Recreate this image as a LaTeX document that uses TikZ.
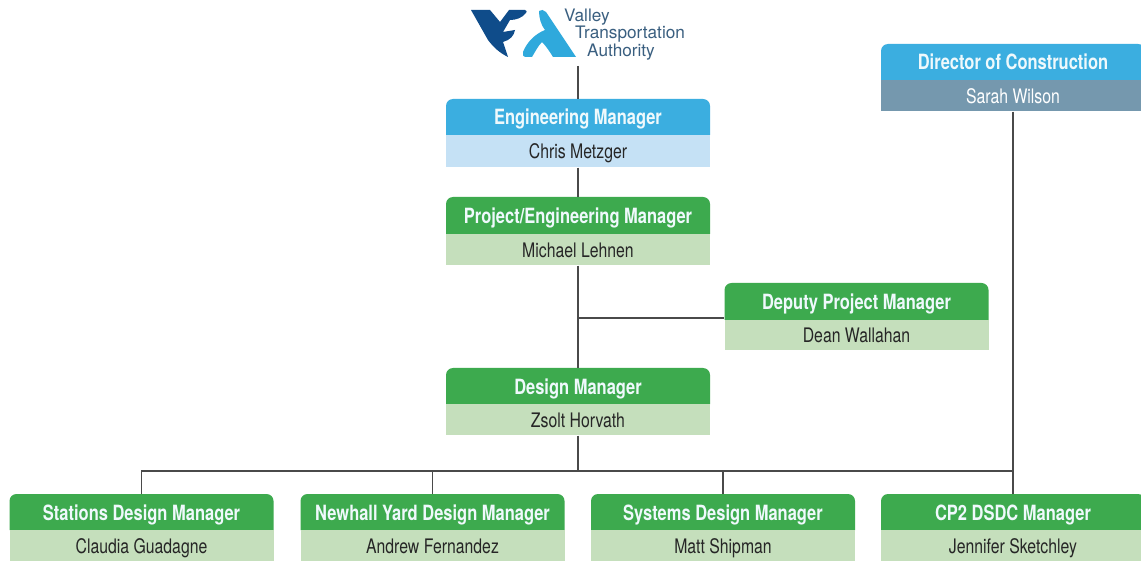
\documentclass[tikz,border=0pt]{standalone}
\usepackage{fontspec}
\setmainfont{TeX Gyre Heros}
\newfontface\narrowreg{TeX Gyre Heros}[FakeStretch=0.79]
\newfontface\narrowbold{TeX Gyre Heros Bold}[FakeStretch=0.785]
\definecolor{skyhead}{HTML}{3BAEE0}
\definecolor{skybody}{HTML}{C5E1F5}
\definecolor{slatebody}{HTML}{7598AE}
\definecolor{greenhead}{HTML}{3DAA4E}
\definecolor{greenbody}{HTML}{C5DFBC}
\definecolor{linegray}{HTML}{4A4A4A}
\definecolor{logodark}{HTML}{0F4C8A}
\definecolor{logolight}{HTML}{2FA9DC}
\definecolor{logotext}{HTML}{3A5F80}
\tikzset{
  titletext/.style={text=#1,font=\narrowbold\fontsize{21}{24}\selectfont,inner sep=0pt,anchor=center,text height=15pt,text depth=0pt},
  nametext/.style={text=#1,font=\narrowreg\fontsize{20}{24}\selectfont,inner sep=0pt,anchor=center,text height=14.4pt,text depth=0pt},
  link/.style={draw=linegray,line width=1.5pt},
  logoword/.style={text=logotext,font=\fontsize{17.2}{20}\selectfont,inner sep=0pt,anchor=west}
}
\newcommand{\personbox}[8]{%
  % name, cx, top, head bottom, body bottom, title, person, palette
  \ifcase#8\relax
    \def\hc{skyhead}\def\bc{skybody}\def\nc{black!85}%
  \or
    \def\hc{greenhead}\def\bc{greenbody}\def\nc{black!85}%
  \or
    \def\hc{skyhead}\def\bc{slatebody}\def\nc{white}%
  \fi
  \fill[\hc] ({#2-132},{#4}) [rounded corners=7pt] -- ({#2-132},{#3}) -- ({#2+132},{#3}) [sharp corners] -- ({#2+132},{#4}) -- cycle;
  \fill[\bc] ({#2-132},{#4}) rectangle ({#2+132},{#5});
  \node[titletext=white!92!skyhead,minimum width=264pt,minimum height={#4-#3}] (#1-head) at ({#2},{(#3+#4)/2+0.5}) {#6};
  \node[nametext=\nc,minimum width=264pt,minimum height={#5-#4}] (#1-body) at ({#2},{(#4+#5)/2+0.5}) {#7};
}
\begin{document}
\begin{tikzpicture}[x=1pt,y=-1pt]
\useasboundingbox (0,0) rectangle (1141,561);
\clip (0,0) rectangle (1141,561);
\fill[white] (0,0) rectangle (1141,561);
% logo
\fill[logodark] (471,10) -- (490,10) -- (500,22) -- (509,10) -- (525,10)
  .. controls (527,10) and (527,12) .. (526,13)
  .. controls (522,18) and (516,20) .. (510,20) -- (503,32) -- (515,30)
  .. controls (514,36) and (510,40) .. (503,42) -- (508,57)
  .. controls (500,53) and (494,48) .. (488,40) -- cycle;
\fill[logolight] (539,11) .. controls (541,9) and (544,10) .. (546,12) -- (576,57) -- (553,57)
  .. controls (550,52) and (546,46) .. (542,42) .. controls (538,46) and (535,52) .. (532,57)
  -- (526,57) .. controls (523,57) and (522,54) .. (523,52)
  .. controls (527,42) and (535,34) .. (545,30) .. controls (541,25) and (539,18) .. cycle;
\node[logoword] (lv) at (564,17) {Valley};
\node[logoword] (lt) at (575,34) {Transportation};
\node[logoword] (la) at (587,52) {Authority};
\coordinate (logobase) at (578,66);
% boxes
\personbox{em}{578}{99}{135}{167}{Engineering Manager}{Chris Metzger}{0}
\personbox{dir}{1013}{44}{80}{111}{Director of Construction}{Sarah Wilson}{2}
\personbox{pm}{578}{197}{234}{265}{Project/Engineering Manager}{Michael Lehnen}{1}
\personbox{dep}{856.5}{283}{320}{350}{Deputy Project Manager}{Dean Wallahan}{1}
\personbox{dm}{578}{368}{404}{435}{Design Manager}{Zsolt Horvath}{1}
\personbox{st}{141.5}{494}{530}{561}{Stations Design Manager}{Claudia Guadagne}{1}
\personbox{ny}{432.5}{494}{530}{561}{Newhall Yard Design Manager}{Andrew Fernandez}{1}
\personbox{sy}{723}{494}{530}{561}{Systems Design Manager}{Matt Shipman}{1}
\personbox{cp}{1013}{494}{530}{561}{CP2 DSDC Manager}{Jennifer Sketchley}{1}
% connectors
\coordinate (bus) at (578,471);
\coordinate (depj) at (578,318);
\draw[link] (logobase) -- (em-head.north);
\draw[link] (em-body.south) -- (pm-head.north);
\draw[link] (pm-body.south) -- (dm-head.north);
\draw[link] (depj) -- (dep-head.west |- depj);
\draw[link] (dm-body.south) -- (bus);
\draw[link] (st-head.north) |- (bus);
\draw[link] (ny-head.north) -- (ny-head.north |- bus);
\draw[link] (sy-head.north) -- (sy-head.north |- bus);
\draw[link] (cp-head.north) |- (bus);
\draw[link] (dir-body.south) -- (cp-head.north);
\end{tikzpicture}
\end{document}
